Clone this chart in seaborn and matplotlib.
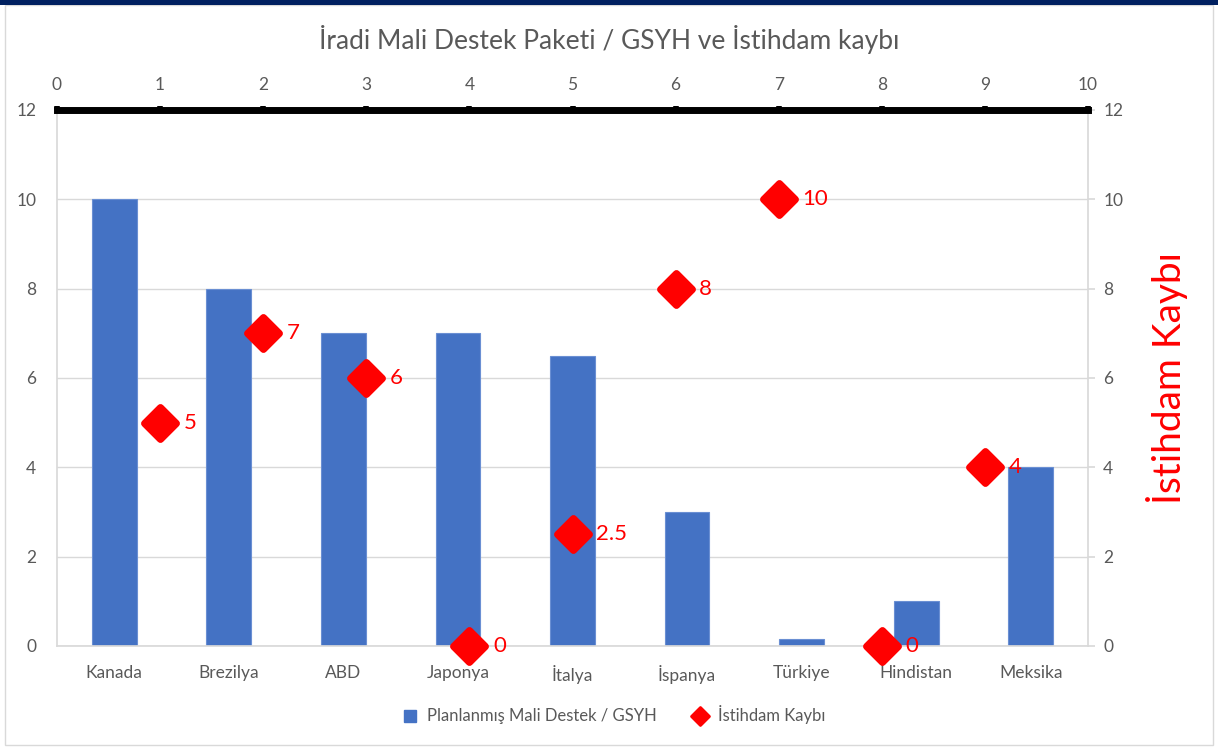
import numpy as np
import pandas as pd
import matplotlib
matplotlib.use("Agg")
import matplotlib.pyplot as plt
from matplotlib.patches import Rectangle
from matplotlib.lines import Line2D
from matplotlib.markers import MarkerStyle
import seaborn as sns

countries = ["Kanada", "Brezilya", "ABD", "Japonya", "İtalya", "İspanya", "Türkiye", "Hindistan", "Meksika"]
support = [10, 8, 7, 7, 6.5, 3, 0.15, 1, 4]
job_x = [1, 2, 3, 4, 5, 6, 7, 8, 9]
job_loss = [5, 7, 6, 0, 2.5, 8, 10, 0, 4]
job_labels = ["5", "7", "6", "0", "2.5", "8", "10", "0", "4"]

sns.set_theme(style="white")
plt.rcParams["font.family"] = ["Lato", "DejaVu Sans"]

gray_txt = "#595959"
grid_c = "#D9D9D9"
blue = "#4472C4"
red = "#FF0000"
tick_fs = 12.5

W, H = 1218, 747
fig = plt.figure(figsize=(W / 100, H / 100), dpi=100)
fig.patch.set_facecolor("white")
# chart frame
fig.patches.append(Rectangle((5 / W, 2 / H), 1208 / W, 740 / H, transform=fig.transFigure,
                             fill=False, edgecolor="#D9D9D9", linewidth=1))
fig.patches.append(Rectangle((0, 1 - 5 / H), 1, 5 / H, transform=fig.transFigure,
                             facecolor="#002060", edgecolor="none"))

x0, x1, y0, y1 = 57, 1088, 110, 646
ax = fig.add_axes([x0 / W, 1 - y1 / H, (x1 - x0) / W, (y1 - y0) / H])
df = pd.DataFrame({"country": countries, "support": support})
sns.barplot(data=df, x="country", y="support", ax=ax, color=blue, width=0.39, saturation=1,
            edgecolor="#6A8FD3", linewidth=0.8)
ax.set_ylim(0, 12)
ax.set_yticks(range(0, 13, 2))
ax.set_xlim(-0.5, len(countries) - 0.5)
ax.set_xlabel("")
ax.set_ylabel("")
ax.yaxis.grid(True, color=grid_c, linewidth=1)
ax.set_axisbelow(True)
for s in ["left", "bottom", "right"]:
    ax.spines[s].set_color(grid_c)
ax.spines["top"].set_visible(False)
ax.tick_params(axis="x", length=0, labelsize=tick_fs, labelcolor=gray_txt, pad=14)
ax.tick_params(axis="y", length=0, labelsize=tick_fs, labelcolor=gray_txt, pad=15)

axr = ax.twinx()
axr.set_ylim(0, 12)
axr.set_yticks(range(0, 13, 2))
axr.tick_params(axis="y", length=5, color=grid_c, labelsize=tick_fs, labelcolor=gray_txt, pad=6)
axr.set_ylabel("İstihdam Kaybı", color=red, fontsize=28, labelpad=16)
for s in axr.spines.values():
    s.set_visible(False)

axs = axr.twiny()
axs.set_xlim(0, 10)
axs.set_xticks(range(0, 11))
axs.tick_params(axis="x", direction="out", length=3, width=4, color="black",
                labelsize=tick_fs, labelcolor=gray_txt, pad=9)
for s in ["left", "right", "bottom"]:
    axs.spines[s].set_visible(False)
axs.spines["top"].set_linewidth(5)
axs.spines["top"].set_color("black")
diamond = MarkerStyle("D", joinstyle="round")
axs.plot(job_x, job_loss, linestyle="none", marker=diamond, markersize=16, color=red,
         markeredgecolor=red, markeredgewidth=5, clip_on=False, zorder=5)
for xv, yv, lab in zip(job_x, job_loss, job_labels):
    axs.annotate(lab, (xv, yv), xytext=(17, 0), textcoords="offset points",
                 color=red, fontsize=16, va="center", ha="left", zorder=6)
axr.set_ylim(0, 12)

fig.text(0.5, 1 - 40 / H, "İradi Mali Destek Paketi / GSYH ve İstihdam kaybı",
         ha="center", va="center", fontsize=19, color=gray_txt)

handles = [Line2D([], [], linestyle="none", marker="s", markersize=9, color=blue),
           Line2D([], [], linestyle="none", marker=MarkerStyle("D", joinstyle="round"),
                  markersize=9, markeredgewidth=2, color=red)]
fig.legend(handles, ["Planlanmış Mali Destek / GSYH", "İstihdam Kaybı"],
           loc="center", bbox_to_anchor=(0.5, 1 - 715 / H), ncol=2, frameon=False,
           fontsize=12, labelcolor=gray_txt, handletextpad=0.05, columnspacing=1.6)

fig.savefig("out.png", dpi=100)
